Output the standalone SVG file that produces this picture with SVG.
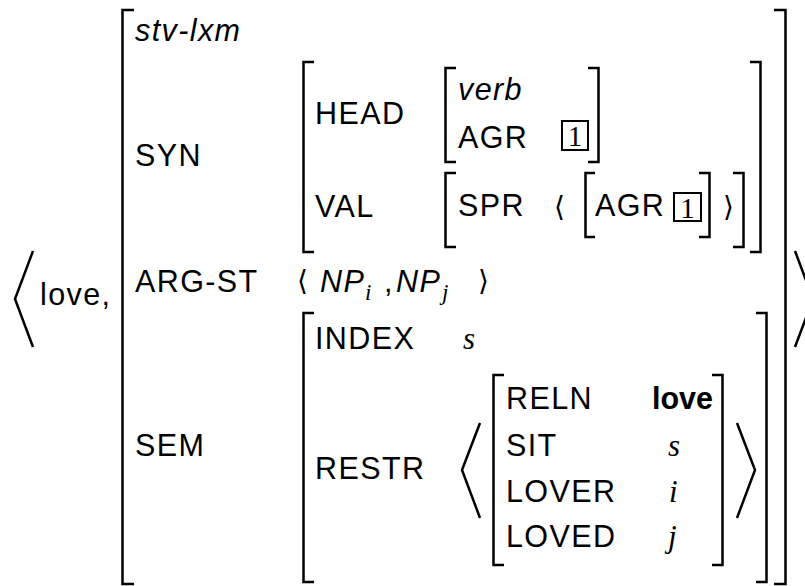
<svg xmlns="http://www.w3.org/2000/svg" width="805" height="586" viewBox="0 0 805 586">
<style>
  .t { font-family: "Liberation Sans", Arial, sans-serif; font-size: 30.5px; letter-spacing: 1.4px; fill: #000; }
  .it { font-style: italic; }
  .b { font-weight: bold; letter-spacing: 0; }
  .m { font-family: "Liberation Serif", "Times New Roman", serif; font-style: italic; font-size: 31px; fill: #000; }
  .sub { font-family: "Liberation Serif", "Times New Roman", serif; font-style: italic; font-size: 23px; fill: #000; }
  .ang { font-family: "DejaVu Sans", sans-serif; font-size: 28px; fill: #000; }
  .br { fill: none; stroke: #000; stroke-width: 2.5; }
  .box { fill: none; stroke: #000; stroke-width: 2; }
  .one { font-family: "Liberation Serif", "Times New Roman", serif; font-size: 29px; fill: #000; }
</style>
<rect width="805" height="586" fill="#fff"/>

<g id="outer">
  <path class="br" d="M33,251 L15,299 L33,347"/>
  <text class="t" x="40" y="305">love,</text>
  <path class="br" d="M134,10 H122.5 V584 H134"/>
  <path class="br" d="M774,10 H785.5 V584 H774"/>
  <path class="br" d="M795,251 L813,299 L795,347"/>
  <text class="t it" x="135" y="41">stv-lxm</text>
  <text class="t" x="135" y="166">SYN</text>
  <text class="t" x="135" y="292">ARG-ST</text>
  <text class="t" x="135" y="456">SEM</text>
</g>

<g id="syn">
  <path class="br" d="M314,62 H303.5 V252 H314"/>
  <path class="br" d="M750,62 H760.5 V252 H750"/>
  <text class="t" x="315" y="124">HEAD</text>
  <text class="t" x="315" y="217">VAL</text>
</g>

<g id="head">
  <path class="br" d="M456,68 H445.5 V162 H456"/>
  <path class="br" d="M588,68 H598.5 V162 H588"/>
  <text class="t it" x="458" y="100">verb</text>
  <text class="t" x="458" y="148">AGR</text>
  <rect class="box" x="562" y="121" width="26" height="29"/>
  <text class="one" x="575" y="146" text-anchor="middle">1</text>
</g>

<g id="val">
  <path class="br" d="M456,173 H445.5 V247 H456"/>
  <path class="br" d="M733,173 H743.5 V247 H733"/>
  <text class="t" x="458" y="216">SPR</text>
  <text class="ang" x="554" y="216">⟨</text>
  <path class="br" d="M595,173 H585.5 V237 H595"/>
  <text class="t" x="595" y="216">AGR</text>
  <rect class="box" x="674" y="193" width="27" height="28"/>
  <text class="one" x="687.5" y="218" text-anchor="middle">1</text>
  <path class="br" d="M699,173 H709.5 V237 H699"/>
  <text class="ang" x="723" y="216">⟩</text>
</g>

<g id="argst">
  <text class="ang" x="297" y="290">⟨</text>
  <text class="t it" x="320" y="292">NP</text>
  <text class="sub" x="365" y="300">i</text>
  <text class="t" x="384" y="292">,</text>
  <text class="t it" x="396" y="292">NP</text>
  <text class="sub" x="442" y="300">j</text>
  <text class="ang" x="478" y="290">⟩</text>
</g>

<g id="sem">
  <path class="br" d="M314,313 H303.5 V582 H314"/>
  <path class="br" d="M756,313 H766.5 V582 H756"/>
  <text class="t" x="315" y="349">INDEX</text>
  <text class="m" x="463" y="349">s</text>
  <text class="t" x="315" y="479">RESTR</text>
</g>

<g id="restr">
  <path class="br" d="M480,423 L462,470 L480,518"/>
  <path class="br" d="M504,375 H493.5 V565 H504"/>
  <path class="br" d="M712,375 H722.5 V565 H712"/>
  <path class="br" d="M737,423 L755,470 L737,518"/>
  <text class="t" x="506" y="409">RELN</text>
  <text class="t b" x="652" y="409">love</text>
  <text class="t" x="506" y="456">SIT</text>
  <text class="m" x="668" y="456">s</text>
  <text class="t" x="506" y="502">LOVER</text>
  <text class="m" x="669" y="502">i</text>
  <text class="t" x="506" y="547">LOVED</text>
  <text class="m" x="668" y="547">j</text>
</g>
</svg>
